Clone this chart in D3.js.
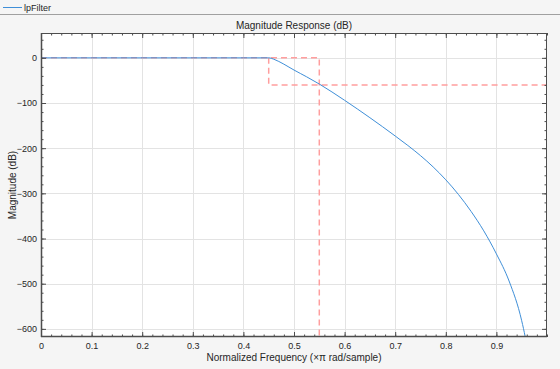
<!DOCTYPE html>
<html><head><meta charset="utf-8">
<script src="https://cdn.jsdelivr.net/npm/d3@7"></script>
<style>
body{margin:0;background:#f5f5f5;}
text{font-family:"Liberation Sans",Arial,Helvetica,sans-serif;fill:#262626;}
</style></head>
<body>
<svg id="chart" width="560" height="369"></svg>
<script>
// ---- data ----
const seriesName = "lpFilter";
const freq = [0, 0.1, 0.2, 0.3, 0.4, 0.45, 0.455, 0.46, 0.47, 0.48, 0.49, 0.5, 0.525, 0.55, 0.575, 0.6, 0.625, 0.65, 0.675, 0.7, 0.725, 0.75, 0.775, 0.8, 0.825, 0.85, 0.875, 0.9, 0.925, 0.95, 0.957, 0.96];
const magDb = [0, 0, 0, 0, 0, 0, -1, -3, -8, -14, -20.5, -27, -42, -58, -75.5, -94, -113, -132.5, -152.5, -173, -194, -216.5, -241.5, -270, -302.5, -340, -383, -434, -494, -582, -618, -636];
const maskPassX = [0, 0.55, 0.55];
const maskPassY = [0, 0, -618];
const maskStopX = [0.45, 0.45, 1];
const maskStopY = [0, -60, -60];
const xTicks = [0, 0.1, 0.2, 0.3, 0.4, 0.5, 0.6, 0.7, 0.8, 0.9];
const yTicks = [0, -100, -200, -300, -400, -500, -600];
const xDomain = [0, 1];
const yDomain = [-618, 55];

const svg = d3.select("#chart");
const m = {l:41, r:547, t:33, b:337};
const x = d3.scaleLinear().domain(xDomain).range([m.l, m.r]);
const y = d3.scaleLinear().domain(yDomain).range([m.b, m.t]);

// legend strip
svg.append("line").attr("x1",0).attr("x2",560).attr("y1",14.5).attr("y2",14.5).attr("stroke","#a0a0a0").attr("stroke-width",1);
svg.append("line").attr("x1",3).attr("x2",22).attr("y1",7.5).attr("y2",7.5).attr("stroke","#3f8fd8").attr("stroke-width",1);
svg.append("text").attr("x",24).attr("y",10.5).attr("font-size",9).text(seriesName);

// plot area
svg.append("rect").attr("x",m.l).attr("y",m.t).attr("width",m.r-m.l).attr("height",m.b-m.t).attr("fill","#fff");

// grid
const g = svg.append("g");
g.selectAll(".gx").data(xTicks).join("line")
  .attr("x1",d=>Math.round(x(d))+0.5).attr("x2",d=>Math.round(x(d))+0.5)
  .attr("y1",m.t).attr("y2",m.b).attr("stroke","#e3e3e3");
g.selectAll(".gy").data(yTicks).join("line")
  .attr("y1",d=>Math.round(y(d))+0.5).attr("y2",d=>Math.round(y(d))+0.5)
  .attr("x1",m.l).attr("x2",m.r).attr("stroke","#e3e3e3");

svg.append("clipPath").attr("id","clip").append("rect")
  .attr("x",m.l).attr("y",m.t).attr("width",m.r-m.l).attr("height",m.b-m.t);

const line = d3.line().x(d=>x(d[0])).y(d=>y(d[1]));
const pl = svg.append("g").attr("clip-path","url(#clip)");
pl.append("path").datum(d3.zip(maskPassX, maskPassY)).attr("d",line)
  .attr("fill","none").attr("stroke","#ff9e9e").attr("stroke-width",1.5).attr("stroke-dasharray","6,4");
pl.append("path").datum(d3.zip(maskStopX, maskStopY)).attr("d",line)
  .attr("fill","none").attr("stroke","#ff9e9e").attr("stroke-width",1.5).attr("stroke-dasharray","6,4");
pl.append("path").datum(d3.zip(freq, magDb)).attr("d",d3.line().curve(d3.curveMonotoneX).x(d=>x(d[0])).y(d=>y(d[1])))
  .attr("fill","none").attr("stroke","#3f8fd8").attr("stroke-width",1);

// axes with inward ticks
const axColor = "#4d4d4d";
const xMinor = d3.range(0, 1.0001, 0.02);
const yMinor = d3.range(-600, 55, 20);
function axisGroup(axis, tr){
  const a = svg.append("g").attr("transform",tr).call(axis);
  a.select(".domain").remove();
  a.selectAll("line").attr("stroke",axColor);
  a.selectAll("text").attr("font-family","Liberation Sans, Arial, sans-serif").attr("fill","#262626").attr("font-size",9);
  return a;
}
// minor
axisGroup(d3.axisBottom(x).tickValues(xMinor).tickSize(-2.5).tickFormat(""), `translate(0,${m.b})`);
axisGroup(d3.axisTop(x).tickValues(xMinor).tickSize(-2.5).tickFormat(""), `translate(0,${m.t})`);
axisGroup(d3.axisLeft(y).tickValues(yMinor).tickSize(-2.5).tickFormat(""), `translate(${m.l},0)`);
axisGroup(d3.axisRight(y).tickValues(yMinor).tickSize(-2.5).tickFormat(""), `translate(${m.r},0)`);
// major
axisGroup(d3.axisBottom(x).tickValues(xTicks).tickSize(-5).tickPadding(5.5).tickFormat(d=>d===0?"0":d3.format(".1f")(d)), `translate(0,${m.b})`);
axisGroup(d3.axisTop(x).tickValues(xTicks).tickSize(-5).tickFormat(""), `translate(0,${m.t})`);
axisGroup(d3.axisLeft(y).tickValues(yTicks).tickSize(-5).tickPadding(4).tickFormat(d3.format("d")), `translate(${m.l},0)`);
axisGroup(d3.axisRight(y).tickValues(yTicks).tickSize(-5).tickFormat(""), `translate(${m.r},0)`);

// box
svg.append("rect").attr("x",m.l+0.5).attr("y",m.t+0.5).attr("width",m.r-m.l-1).attr("height",m.b-m.t-1)
  .attr("fill","none").attr("stroke",axColor).attr("stroke-width",1);
svg.append("line").attr("x1",m.l+0.5).attr("x2",m.l+0.5).attr("y1",m.t).attr("y2",m.b).attr("stroke",axColor).attr("stroke-width",1.5);
svg.append("line").attr("x1",m.l).attr("x2",m.r).attr("y1",m.b-0.5).attr("y2",m.b-0.5).attr("stroke",axColor).attr("stroke-width",1.5);

// titles
svg.append("text").attr("x",(m.l+m.r)/2).attr("y",29.3).attr("text-anchor","middle").attr("font-size",10).text("Magnitude Response (dB)");
svg.append("text").attr("x",(m.l+m.r)/2).attr("y",361).attr("text-anchor","middle").attr("font-size",10).text("Normalized Frequency (\u00d7\u03c0 rad/sample)");
svg.append("text").attr("transform",`translate(16,${(m.t+m.b)/2}) rotate(-90)`).attr("text-anchor","middle").attr("font-size",10).text("Magnitude (dB)");
</script>
</body></html>
